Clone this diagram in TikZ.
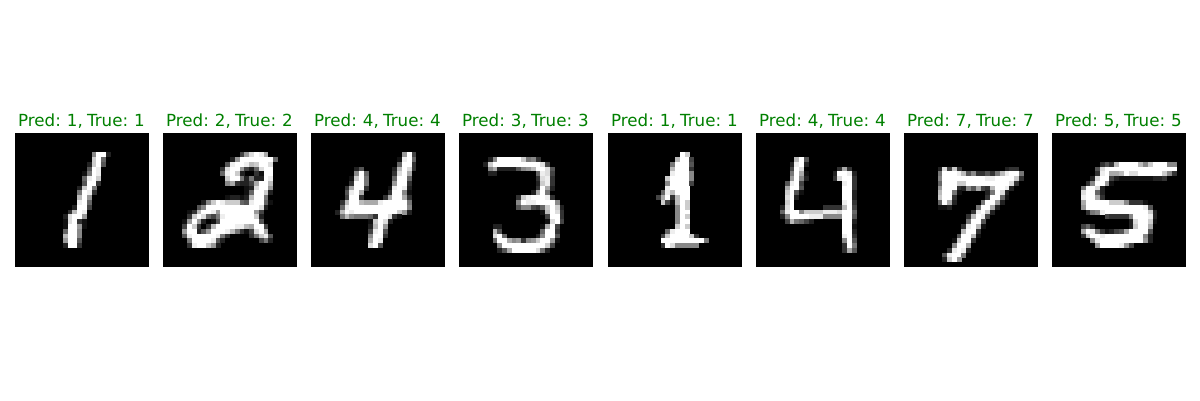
\documentclass[tikz,border=0pt]{standalone}
\usepackage{fontspec}
\setmainfont{DejaVu Sans}
\definecolor{predgreen}{RGB}{0,128,0}
\definecolor{px0}{gray}{0}
\definecolor{px1}{gray}{0.067}\definecolor{px2}{gray}{0.133}\definecolor{px3}{gray}{0.2}
\definecolor{px4}{gray}{0.267}\definecolor{px5}{gray}{0.333}\definecolor{px6}{gray}{0.4}
\definecolor{px7}{gray}{0.467}\definecolor{px8}{gray}{0.533}\definecolor{px9}{gray}{0.6}
\definecolor{pxA}{gray}{0.667}\definecolor{pxB}{gray}{0.733}\definecolor{pxC}{gray}{0.8}
\definecolor{pxD}{gray}{0.867}\definecolor{pxE}{gray}{0.933}\definecolor{pxF}{gray}{1}
\newcount\pxcol
\def\pxcell#1{\fill[px#1] (\the\pxcol,\pxr) rectangle +(1.04,1.04);\global\advance\pxcol by 1 }
\def\pxrow#1{\if#1.\else\pxcell{#1}\expandafter\pxrow\fi}
\newcommand{\titletext}[1]{\begingroup\spaceskip=4.3pt\relax #1\endgroup}
\tikzset{
  titlelabel/.style={text=predgreen,font=\fontsize{16.67pt}{20pt}\selectfont,anchor=base,inner sep=0pt},
  imagepanel/.style={fill=black,draw=none}
}
\newcommand{\mnistcells}[2]{%
  \begin{scope}[shift={(#1,133)},x=4.7857pt,y=-4.7857pt]
    \fill[imagepanel] (0,0) rectangle (28,28);
    \foreach \pxr/\pxc/\pxs in {#2}{%
      \global\pxcol=\pxc\relax
      \expandafter\pxrow\pxs.%
    }
  \end{scope}
}
\begin{document}
\begin{tikzpicture}[x=1pt,y=-1pt]
\useasboundingbox (0,0) rectangle (1200,400);
\mnistcells{15}{4/16/8FF2,5/16/CF6,6/15/2CF5,7/15/5FE,8/14/17FE,9/14/6EFC,10/14/5FF3,11/13/2CF7,12/13/7FE3,13/13/BF9,14/13/EF6,15/12/2FF4,16/11/3BFE,17/10/2DFF9,18/10/1DF31,19/10/1FF91,20/10/6FF8,21/10/BFF8,22/10/9FF5,23/10/2FF3}
\mnistcells{163}{4/16/49DFEA,5/14/29FFFFFFF6,6/13/5EFFEBCFFD,7/12/3DFF9426DFF,8/12/6EFC2,8/19/31FF,9/13/CFF72722FE,10/13/8A3224AFFB,11/17/12DFF9,12/17/16FFC2,13/13/12212BFF7,14/8/28CFECCC65EFF61,15/7/58FFFFFFFFFFFD2,16/5/13BFFE9FFFFFFF94,17/5/3CFD647EFFFFFFC2,18/4/19F92015FFFFFFFF5,19/4/4FC303BFFFFEEBAFF4,20/4/9FF259FFFEB7314DFA,21/4/5EFFFFFE73,21/18/37CE5,22/5/7FFFFE52,22/20/472,23/5/3EFFC92}
\mnistcells{311}{4/19/9F4,5/18/1EF6,6/18/6FF3,7/9/25,7/17/2BFD3,8/9/8F6,8/17/3DFA,9/8/1CF7,9/17/6FF6,10/8/3FF7,10/17/9FF3,11/7/3AFF3,11/16/1EFE2,12/7/5EFA,12/16/3FF81,13/7/4FF3,13/15/3AFFA3,14/6/3BFFBAAAEFFFFF7,15/6/6EFFFFFFFFFFFF8,16/5/2BFEFFFFFFFFFC92,17/6/7B877763FFD31,18/12/1CFD2,19/12/2BF9,20/12/4EF5,21/12/8FF3,22/12/AFE,23/12/DF5}
\mnistcells{459}{5/6/28FFFFFC783,6/5/2CFFFFFFFFFFD4,7/6/8A2222589BFFD5,8/6/22,8/16/6ED4,9/16/3DE3,10/16/2CE3,11/16/3FA2,12/15/2AF7,13/12/3CEFFFE3,14/12/8FEEFFFF8,15/12/588436CFC2,16/17/1BFD3,17/18/4FF3,18/18/1DF4,19/7/22,19/17/1AF4,20/7/B5,20/17/6FF3,21/7/DF6,21/16/28FF5,22/7/6FFA89389CFF91,23/8/8FFFFFFFFFC4,24/8/25AFFFFFD72}
\mnistcells{608}{4/15/FC,5/14/BFF4,6/13/7FFF5,7/13/BFFF3,8/13/EFFF8,9/12/CFFFF8,10/12/8FFFF4,11/12/EFFFF,12/11/6EBFFF,13/10/4AF3BFF,14/11/C41BFC,15/14/8FC,16/14/8FF,17/14/8FC,18/14/8FF,19/14/CFC,20/12/6EFFF,21/11/4CFFFFC3,22/11/FFFFFFFFF7,23/11/3FD88888}
\mnistcells{756}{5/8/BF5,6/7/2EF2,7/7/4FD,7/17/3A3,8/7/7FA1,8/16/2FFE2,9/7/9F82,9/16/3DFF3,10/6/5EF4,10/18/EF3,11/6/AFF5,11/18/FF3,12/6/CF51,12/18/FF2,13/6/DF2,13/18/FF2,14/6/CF,14/18/EF3,15/5/2DF,15/14/3333BF4,16/5/6EFF8CCCCEEEDFF6,17/5/28FFFFEEE8888FF5,18/6/4B7642,18/18/FF2,19/18/FF1,20/18/FF2,21/18/EF3,22/18/8F5,23/18/3F7,24/18/3A5}
\mnistcells{904}{7/7/2D4C3,7/21/233,8/7/7FFFEB5833537BEFF7,9/7/8FFFFFFFFFEEFFFFC3,10/7/6FFFCCFFFFFFFFFD3,11/7/9FFF3285A43BFFE2,12/7/BFF71,12/17/27FD2,13/7/CFF3,13/17/3FF61,14/7/6FA2,14/16/7FF92,15/7/112,15/15/7FFA2,16/14/3EFC2,17/13/3BFE4,18/13/7FF5,19/12/3EFB1,20/12/BFF3,21/11/5FFB1,22/10/1CFF3,23/10/8FFA,24/9/3EFE2,25/8/5EFF7,26/8/2CF9}
\mnistcells{1052}{6/10/353BFFFFB8CFFF88,7/9/5DFFFFFFFFFFFFFFF,8/9/3EFAABFDDFFFFFC83,9/8/2DFF421111111223,10/7/38FF91,11/6/7FFD2,12/6/DFF62,13/6/EFFA3,14/6/AFFFFFCCC83331,15/6/9FFFFFFFFFFFFE5,16/7/378EFFFFFFFFFC2,17/11/433338FFFE2,18/16/2DFFC1,19/6/463,19/16/2CFFA,20/6/AFE731245AFFFF5,21/6/3CFFEFFFFFFFF82,22/8/8EFFFFFFFFF92,23/9/9FFFFE94}
\foreach \tname/\tx/\ttext in {a/15/{Pred: 1, True: 1},b/163/{Pred: 2, True: 2},c/311/{Pred: 4, True: 4},d/459/{Pred: 3, True: 3},e/608/{Pred: 1, True: 1},f/756/{Pred: 4, True: 4},g/904/{Pred: 7, True: 7},h/1052/{Pred: 5, True: 5}}{
  \node[titlelabel] (title\tname) at (\tx+66.5,126) {\titletext{\ttext}};
}
\end{tikzpicture}
\end{document}
